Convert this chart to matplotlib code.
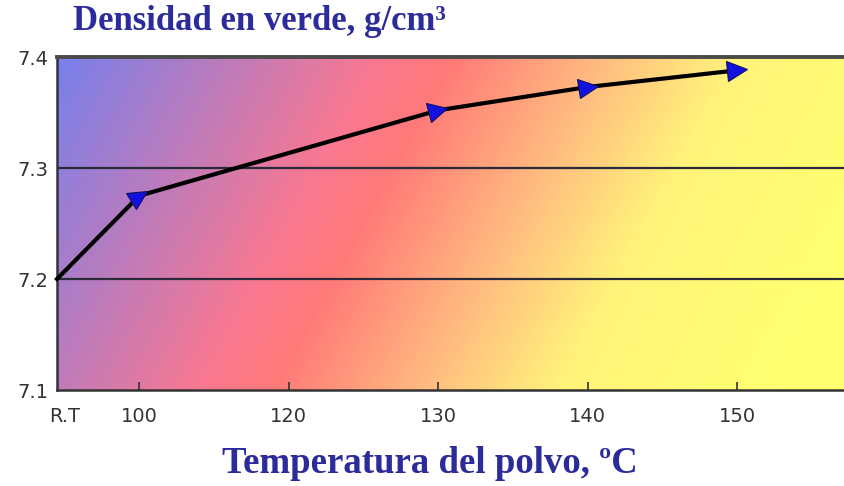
import matplotlib
matplotlib.use("Agg")
import matplotlib.pyplot as plt
import numpy as np
from matplotlib.colors import LinearSegmentedColormap
from matplotlib.markers import MarkerStyle
from matplotlib.transforms import Affine2D

# data (x is category position, not temperature)
tick_pos = [0.5, 1, 2, 3, 4, 5]
tick_labels = ["R.T", "100", "120", "130", "140", "150"]
x_pos = [0.45, 1, 3, 4, 5]
density = [7.200, 7.275, 7.352, 7.373, 7.388]

fig = plt.figure(figsize=(8.45, 4.86), dpi=100)
ax = fig.add_axes([57 / 845, 96 / 486, 788 / 845, 333 / 486])

# diagonal background gradient blue -> red -> yellow
cmap = LinearSegmentedColormap.from_list(
    "bg", [(0.0, "#7880ec"), (0.36, "#fa7890"), (0.44, "#ff7a78"), (0.62, "#ffc080"),
           (0.76, "#fff47a"), (1.0, "#ffff70")])
xf, yf = np.meshgrid(np.linspace(0, 1, 400), np.linspace(0, 1, 200))
t = (xf * 788 + 0.54 * yf * 333) / 900
ax.imshow(t, cmap=cmap, vmin=0, vmax=1, extent=[0, 1, 0, 1], origin="upper",
          transform=ax.transAxes, aspect="auto", zorder=0, interpolation="bilinear")

ax.set_xlim(0.45, 5.72)
ax.set_ylim(7.1, 7.4)
ax.set_yticks([7.1, 7.2, 7.3, 7.4])
ax.set_yticklabels(["7.1", "7.2", "7.3", "7.4"])
ax.set_xticks(tick_pos)
ax.set_xticklabels(tick_labels)
ax.tick_params(axis="y", length=0, pad=6, labelsize=14, labelcolor="#333333")
ax.tick_params(axis="x", direction="in", length=6, width=1.2, color="#333333",
               pad=12, labelsize=14, labelcolor="#333333")
ax.xaxis.get_major_ticks()[0].tick1line.set_visible(False)

for yv in [7.2, 7.3]:
    ax.axhline(yv, color="#2a2a3a", lw=1.6, zorder=2)

ax.spines["top"].set_color("#4a4a4a")
ax.spines["top"].set_linewidth(2.8)
ax.spines["left"].set_color("#333344")
ax.spines["left"].set_linewidth(1.8)
ax.spines["bottom"].set_color("#333333")
ax.spines["bottom"].set_linewidth(1.8)
ax.spines["right"].set_visible(False)

ax.plot(x_pos, density, color="black", lw=3, zorder=3, clip_on=False)

# arrow-like triangles following the line direction
pts = ax.transData.transform(np.column_stack([x_pos, density]))
for i in range(1, len(x_pos)):
    d = pts[i] - pts[i - 1]
    if i + 1 < len(x_pos):
        d = d / np.hypot(*d) + (pts[i + 1] - pts[i]) / np.hypot(*(pts[i + 1] - pts[i]))
    ang = np.degrees(np.arctan2(d[1], d[0]))
    m = MarkerStyle(">", transform=Affine2D().rotate_deg(ang))
    ax.plot(x_pos[i], density[i], marker=m, ms=14, color="#1212e0",
            mec="#101060", mew=0.8, zorder=4, ls="none")

fig.text(73 / 845, 1 - 22 / 486, "Densidad en verde, g/cm³", family="Liberation Serif",
         fontweight="bold", fontsize=25, color="#2b2b9c", ha="left", va="center")
fig.text(430 / 845, 1 - 463 / 486, "Temperatura del polvo, ºC", family="Liberation Serif",
         fontweight="bold", fontsize=26.5, color="#2b2b9c", ha="center", va="center")

fig.savefig("out.png", dpi=100)
